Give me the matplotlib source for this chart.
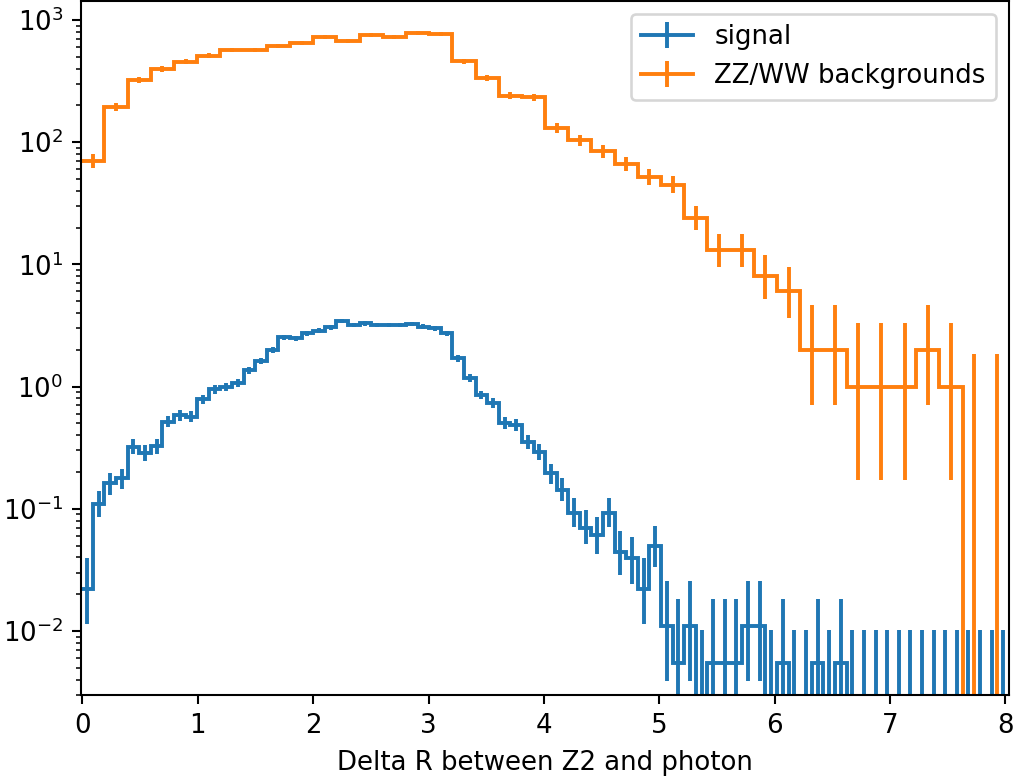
import math
import numpy as np
import matplotlib
matplotlib.use("Agg")
import matplotlib.pyplot as plt
from matplotlib.container import ErrorbarContainer
from matplotlib.lines import Line2D

# Histogram range in Delta R (both samples share it)
x_low, x_high = -0.01, 8.03
n_bins_signal = 80
n_bins_background = 40

# Signal: weighted event yields per bin (weight per MC event below)
signal = [
    0.022, 0.109, 0.161, 0.177, 0.322, 0.287, 0.326, 0.515, 0.585, 0.566,
    0.785, 0.948, 0.985, 1.06, 1.36, 1.62, 1.99, 2.53, 2.48, 2.72,
    2.86, 3.05, 3.46, 3.19, 3.29, 3.2, 3.19, 3.19, 3.25, 3.09,
    2.99, 2.72, 1.70, 1.17, 0.852, 0.729, 0.500, 0.484, 0.353, 0.293,
    0.195, 0.142, 0.0917, 0.069, 0.061, 0.0917, 0.0445, 0.0393, 0.022, 0.0495,
    0.011, 0.0055, 0.011, 0.0, 0.0055, 0.0055, 0.0055, 0.011, 0.011, 0.0,
    0.0055, 0.0, 0.0, 0.0055, 0.0, 0.0055, 0.0, 0.0, 0.0, 0.0,
    0.0, 0.0, 0.0, 0.0, 0.0, 0.0, 0.0, 0.0, 0.0, 0.0,
]
signal_weight = 0.0055

# ZZ/WW backgrounds: raw event counts per bin
background = [
    70, 195, 322, 396, 455, 509, 567, 567, 611, 650,
    728, 676, 757, 720, 785, 762, 461, 333, 240, 233,
    131, 104, 84, 66, 52, 45, 24, 13, 13, 8,
    6, 2, 2, 1, 1, 1, 2, 1, 0, 0,
]

labels = ["signal", "ZZ/WW backgrounds"]
colors = ["#1f77b4", "#ff7f0e"]


def poisson_cdf(k, mu):
    if k < 0:
        return 0.0
    ks = np.arange(k + 1)
    log_fact = np.concatenate([[0.0], np.cumsum(np.log(np.arange(1, k + 1)))])
    logp = ks * math.log(mu) - mu - log_fact
    return float(np.exp(logp).sum())


def solve_mu(k, target):
    lo, hi = 1e-9, 10.0 + 4 * k + 10 * math.sqrt(k + 1)
    for _ in range(80):
        mid = 0.5 * (lo + hi)
        if poisson_cdf(k, mid) > target:
            lo = mid
        else:
            hi = mid
    return 0.5 * (lo + hi)


def garwood(n):
    """Central 68.27% Poisson interval for an observed count n."""
    alpha = (1 - 0.682689492) / 2
    n = int(n)
    low = 0.0 if n == 0 else solve_mu(n - 1, 1 - alpha)
    high = solve_mu(n, alpha)
    return low, high


def yerr_for(heights, weight):
    heights = np.asarray(heights, float)
    counts = np.rint(heights / weight)
    lo, hi = [], []
    for h, n in zip(heights, counts):
        a, b = garwood(n)
        lo.append(max(h - a * weight, 0.0))
        hi.append(b * weight - h)
    return np.array([lo, hi])


W, H, DPI = 1015, 776, 187
fig = plt.figure(figsize=(W / DPI, H / DPI), dpi=DPI)
ax = fig.add_axes([81.3 / W, 1 - 695 / H, (1008.9 - 81.3) / W, (695 - 1) / H])
ax.set_yscale("log")

handles = []
datasets = [
    (signal, signal_weight, n_bins_signal),
    (background, 1.0, n_bins_background),
]
for (vals, weight, nb), color, label in zip(datasets, colors, labels):
    vals = np.asarray(vals, float)
    edges = np.linspace(x_low, x_high, nb + 1)
    centers = 0.5 * (edges[:-1] + edges[1:])
    err = yerr_for(vals, weight)
    ax.stairs(vals, edges, color=color, linewidth=1.5, baseline=None)
    eb = ax.errorbar(centers, vals, yerr=err, fmt="none", ecolor=color,
                     elinewidth=1.5, capsize=0)
    proxy = Line2D([], [], color=color, linewidth=1.5)
    handles.append(ErrorbarContainer((proxy, (), eb.lines[2]),
                                     has_xerr=False, has_yerr=True,
                                     label=label))

ax.set_xlim(x_low, x_high)
ax.set_ylim(2.99e-3, 1.43e3)
ax.set_xlabel("Delta R between Z2 and photon")
ax.legend(handles=handles, labels=labels, loc="upper right")

fig.savefig("out.png", dpi=DPI)
